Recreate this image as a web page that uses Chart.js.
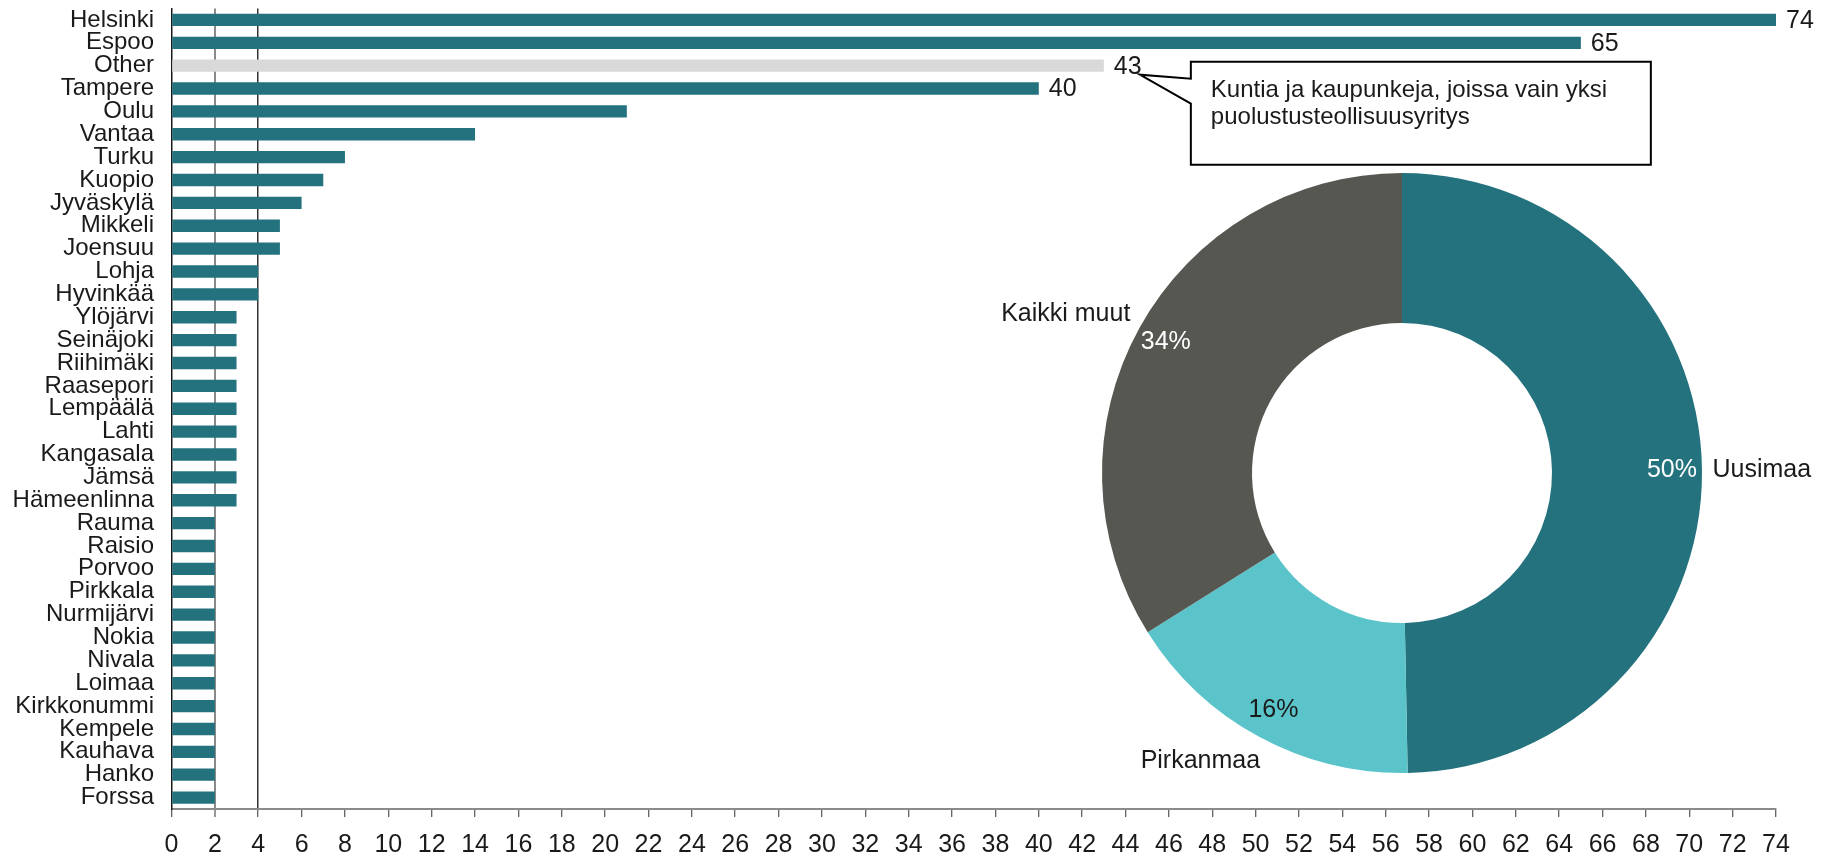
<!DOCTYPE html>
<html>
<head>
<meta charset="utf-8">
<script src="https://cdn.jsdelivr.net/npm/chart.js@4.4.1/dist/chart.umd.min.js"></script>
<style>
html,body{margin:0;padding:0;background:#fff;overflow:hidden;}
#wrap{position:relative;width:1842px;height:856px;}
#barBox{position:absolute;left:0;top:0;width:1842px;height:856px;}
#pieBox{position:absolute;left:962px;top:113px;width:880px;height:720px;}
</style>
</head>
<body>
<div id="wrap">
  <div id="barBox"><canvas id="bar"></canvas></div>
  <div id="pieBox"><canvas id="pie"></canvas></div>
</div>
<script>
// ---- data ----
const cities = ['Helsinki','Espoo','Other','Tampere','Oulu','Vantaa','Turku','Kuopio','Jyväskylä','Mikkeli','Joensuu','Lohja','Hyvinkää','Ylöjärvi','Seinäjoki','Riihimäki','Raasepori','Lempäälä','Lahti','Kangasala','Jämsä','Hämeenlinna','Rauma','Raisio','Porvoo','Pirkkala','Nurmijärvi','Nokia','Nivala','Loimaa','Kirkkonummi','Kempele','Kauhava','Hanko','Forssa'];
const companies = [74,65,43,40,21,14,8,7,6,5,5,4,4,3,3,3,3,3,3,3,3,3,2,2,2,2,2,2,2,2,2,2,2,2,2];
const labeledCities = ['Helsinki','Espoo','Other','Tampere'];
const highlightCategory = 'Other';
const xMin = 0, xMax = 74, xStep = 2;
const annotationLines = ['Kuntia ja kaupunkeja, joissa vain yksi','puolustusteollisuusyritys'];
const regions = ['Uusimaa','Pirkanmaa','Kaikki muut'];
const regionShares = [49.7,16.4,33.9];

// ---- style ----
const FONT = '"Liberation Sans", Arial, Helvetica, sans-serif';
const TEXT = '#1a1a1a';
const TEAL = '#24727E';
const GREY_BAR = '#D9D9D9';
const regionColors = ['#24727E','#5BC4CA','#575752'];
const pctColors = ['#ffffff','#1a1a1a','#ffffff'];

Chart.defaults.font.family = FONT;
Chart.defaults.color = TEXT;

const barValueLabels = {
  id: 'barValueLabels',
  afterDatasetsDraw(chart) {
    const ctx = chart.ctx;
    const meta = chart.getDatasetMeta(0);
    ctx.save();
    ctx.font = '25px ' + FONT;
    ctx.fillStyle = TEXT;
    ctx.textAlign = 'left';
    ctx.textBaseline = 'middle';
    meta.data.forEach((el, i) => {
      if (labeledCities.includes(cities[i])) {
        ctx.fillText(String(companies[i]), el.x + 10, el.y + 1);
      }
    });
    ctx.restore();
  }
};

const callout = {
  id: 'callout',
  afterDraw(chart) {
    const ctx = chart.ctx;
    const idx = cities.indexOf(highlightCategory);
    const el = chart.getDatasetMeta(0).data[idx];
    const bx = el.x, by = el.y;
    const L = bx + 87, T = by - 4, R = bx + 547, B = by + 99;
    const tipX = bx + 36, tipY = by + 9;
    const b1 = by + 13, b2 = by + 38;
    ctx.save();
    ctx.beginPath();
    ctx.moveTo(L, T);
    ctx.lineTo(R, T);
    ctx.lineTo(R, B);
    ctx.lineTo(L, B);
    ctx.lineTo(L, b2);
    ctx.lineTo(tipX, tipY);
    ctx.lineTo(L, b1);
    ctx.closePath();
    ctx.fillStyle = '#ffffff';
    ctx.fill();
    ctx.lineWidth = 2;
    ctx.strokeStyle = '#000000';
    ctx.lineJoin = 'miter';
    ctx.stroke();
    ctx.font = '24px ' + FONT;
    ctx.fillStyle = TEXT;
    ctx.textAlign = 'left';
    ctx.textBaseline = 'alphabetic';
    annotationLines.forEach((line, k) => ctx.fillText(line, L + 20, T + 35 + k * 27));
    ctx.restore();
  }
};

new Chart(document.getElementById('bar'), {
  type: 'bar',
  data: {
    labels: cities,
    datasets: [{
      data: companies,
      backgroundColor: cities.map(c => c === highlightCategory ? GREY_BAR : TEAL),
      borderWidth: 0,
      barPercentage: 0.54,
      categoryPercentage: 1
    }]
  },
  options: {
    indexAxis: 'y',
    responsive: true,
    maintainAspectRatio: false,
    animation: false,
    devicePixelRatio: 1,
    layout: { padding: { left: 0, right: 66, top: 8.5, bottom: 0 } },
    plugins: { legend: { display: false }, tooltip: { enabled: false } },
    scales: {
      x: {
        type: 'linear',
        min: xMin, max: xMax,
        ticks: { stepSize: xStep, autoSkip: false, maxRotation: 0, color: TEXT, font: { size: 25 }, padding: 13 },
        grid: {
          drawOnChartArea: true,
          drawTicks: true,
          tickLength: 8,
          color: c => c.tick && c.tick.value === 2 ? '#8a8a8a' : (c.tick && c.tick.value === 4 ? '#333333' : 'rgba(0,0,0,0)'),
          lineWidth: c => c.tick && c.tick.value === 2 ? 2 : 1.5,
          tickColor: '#333333',
          tickWidth: 1
        },
        border: { display: true, color: '#8a8a8a', width: 2 },
        afterFit: s => { s.height = 47; s.paddingLeft = 0; s.paddingRight = 0; }
      },
      y: {
        type: 'category',
        ticks: { autoSkip: false, color: TEXT, font: { size: 24 }, padding: 17.5 },
        grid: { display: false, drawTicks: false },
        border: { display: true, color: '#1a1a1a', width: 1.5 },
        afterFit: s => { s.width = 171.5; s.paddingTop = 0; s.paddingBottom = 0; }
      }
    }
  },
  plugins: [barValueLabels, callout]
});

const pieLabels = {
  id: 'pieLabels',
  afterDatasetsDraw(chart) {
    const ctx = chart.ctx;
    const meta = chart.getDatasetMeta(0);
    const total = regionShares.reduce((a, b) => a + b, 0);
    ctx.save();
    meta.data.forEach((el, i) => {
      const p = el.getProps(['x', 'y', 'startAngle', 'endAngle', 'outerRadius'], true);
      const mid = (p.startAngle + p.endAngle) / 2;
      const c = Math.cos(mid), s = Math.sin(mid);
      // percentage inside ring
      const rp = p.outerRadius * 0.9;
      ctx.font = '25px ' + FONT;
      ctx.fillStyle = pctColors[i];
      ctx.textAlign = 'center';
      ctx.textBaseline = 'middle';
      ctx.fillText(Math.round(regionShares[i] / total * 100) + '%', p.x + c * rp, p.y + s * rp);
      // category label outside
      const ro = p.outerRadius + 10.5;
      const ax = p.x + c * ro, ay = p.y + s * ro;
      ctx.font = '25px ' + FONT;
      ctx.fillStyle = TEXT;
      ctx.textAlign = c >= 0 ? 'left' : 'right';
      ctx.fillText(regions[i], ax + (s > 0.5 ? 6 : 0), ay + s * 17);
    });
    ctx.restore();
  }
};

new Chart(document.getElementById('pie'), {
  type: 'doughnut',
  data: {
    labels: regions,
    datasets: [{ data: regionShares, backgroundColor: regionColors, borderWidth: 0 }]
  },
  options: {
    responsive: true,
    maintainAspectRatio: false,
    animation: false,
    devicePixelRatio: 1,
    cutout: '50%',
    layout: { padding: { left: 140, right: 140, top: 60, bottom: 60 } },
    plugins: { legend: { display: false }, tooltip: { enabled: false } }
  },
  plugins: [pieLabels]
});
</script>
</body>
</html>
